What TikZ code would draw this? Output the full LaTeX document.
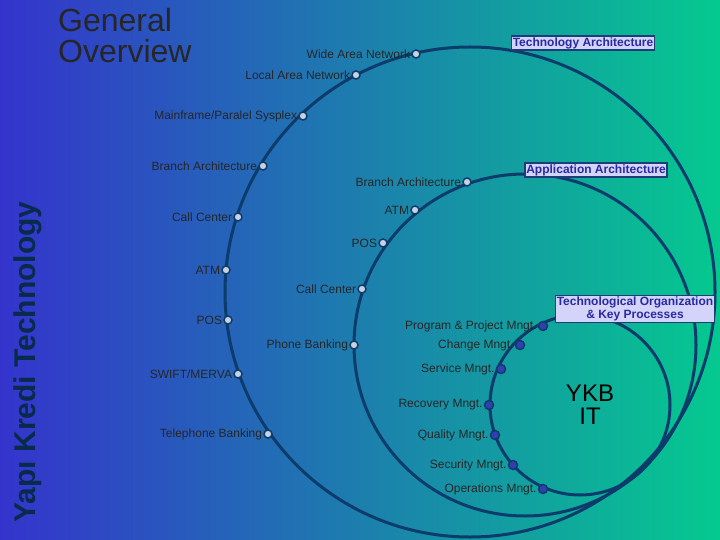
\documentclass[tikz,border=0pt]{standalone}
\usepackage{fontspec}
\setmainfont{Liberation Sans}
\begin{document}
\begin{tikzpicture}[x=1pt,y=-1pt,
  ring/.style={draw=ringc,line width=3pt},
  dotg/.style={circle,draw=ringc,line width=1.5pt,fill=dotfill,inner sep=0pt,minimum size=8pt},
  dotb/.style={circle,draw=ringc,line width=1.5pt,fill=dotblue,inner sep=0pt,minimum size=9pt},
  lbl/.style={font=\fontsize{12}{13}\selectfont,text=black!85,inner sep=1pt,anchor=east},
  tag/.style={draw=tagborder,line width=1.4pt,fill=tagfill,text=tagtext,font=\bfseries\fontsize{12}{12.5}\selectfont,inner sep=1.5pt,align=center}]
\definecolor{ringc}{HTML}{0C3C6C}
\definecolor{dotfill}{HTML}{C8D2E2}
\definecolor{dotblue}{HTML}{3040B0}
\definecolor{tagfill}{HTML}{D4D4FA}
\definecolor{tagborder}{HTML}{1E3C78}
\definecolor{tagtext}{HTML}{2A2AA0}
\definecolor{bgl}{HTML}{3434CC}
\definecolor{bgr}{HTML}{05C98F}
\useasboundingbox (0,0) rectangle (720,540);
\shade[left color=bgl,right color=bgr] (0,0) rectangle (720,540);
% circles
\node[ring,circle,minimum size=490pt,inner sep=0pt] (big) at (470,292) {};
\node[ring,circle,minimum size=342pt,inner sep=0pt] (mid) at (525,345) {};
\node[ring,circle,minimum size=180pt,inner sep=0pt] (small) at (580,405) {};
% titles
\node[font=\fontsize{32}{31}\selectfont,align=left,text=black!85,anchor=north west,inner sep=0pt] (title) at (58,8) {General\\Overview};
\node[rotate=90,font=\bfseries\fontsize{30}{31}\selectfont,text=ringc!70!black,anchor=center] (side) at (28,362) {Yapı Kredi Technology};
% big circle dots
\foreach \n/\x/\y/\t in {a1/416/54/{Wide Area Network},a2/356/75/{Local Area Network},a3/303/116/{Mainframe/Paralel Sysplex},a4/263/166/{Branch Architecture},a5/238/217/{Call Center},a6/226/270/{ATM},a7/228/320/{POS},a8/238/374/{SWIFT/MERVA},a9/268/434/{Telephone Banking}}
  {\node[dotg] (\n) at (\x,\y) {}; \node[lbl] (l\n) at (\n.west) {\t};}
% middle circle dots
\foreach \n/\x/\y/\t in {b1/467/182/Branch Architecture,b2/415/210/ATM,b3/383/243/POS,b4/362/289/Call Center,b5/354/345/Phone Banking}
  {\node[dotg] (\n) at (\x,\y) {}; \node[lbl] (l\n) at (\n.west) {\t};}
% small circle dots
\foreach \n/\x/\y/\t in {c1/543/326/Program \& Project Mngt.,c2/520/345/Change Mngt.,c3/501/369/Service  Mngt.,c4/489/405/Recovery Mngt.,c5/495/435/Quality Mngt.,c6/513/465/Security Mngt.,c7/543/489/Operations Mngt.}
  {\node[dotb] (\n) at (\x,\y) {}; \node[lbl] (l\n) at (\n.west) {\t};}
% tags
\node[tag] (t1) at (583,43) {Technology Architecture};
\node[tag] (t2) at (596,170) {Application Architecture};
\node[tag] (t3) at (635,309) {Technological Organization\\\& Key Processes};
\node[font=\fontsize{24}{23}\selectfont,align=center,text=black] (ykb) at (590,405) {YKB\\IT};
\end{tikzpicture}
\end{document}
